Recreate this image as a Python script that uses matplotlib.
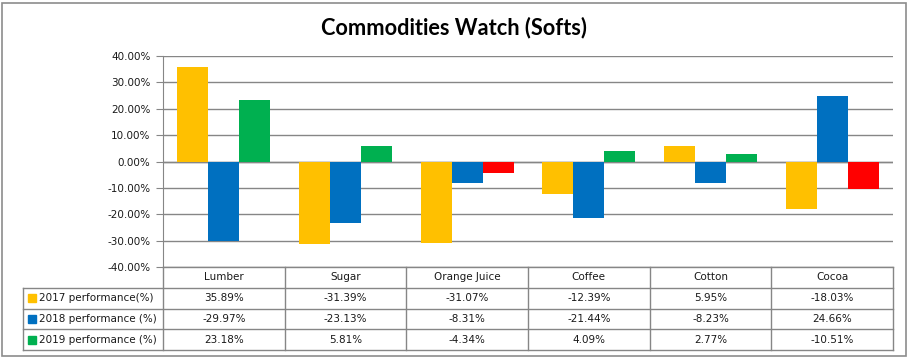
import numpy as np
import matplotlib
matplotlib.use('Agg')
import matplotlib.pyplot as plt
import matplotlib.transforms as mtransforms
from matplotlib.patches import Rectangle

categories = ['Lumber', 'Sugar', 'Orange Juice', 'Coffee', 'Cotton', 'Cocoa']
p2017 = [35.89, -31.39, -31.07, -12.39, 5.95, -18.03]
p2018 = [-29.97, -23.13, -8.31, -21.44, -8.23, 24.66]
p2019 = [23.18, 5.81, -4.34, 4.09, 2.77, -10.51]
series_names = ['2017 performance(%)', '2018 performance (%)', '2019 performance (%)']
yticks = [-40, -30, -20, -10, 0, 10, 20, 30, 40]

yellow = '#FFC000'
blue = '#0070C0'
green = '#00B050'
red = '#FF0000'
grid = '#868686'
txt = '#1a1a1a'

W, H = 908, 357
fig = plt.figure(figsize=(W / 100, H / 100), dpi=100)
fig.patches.append(Rectangle((1.5 / W, 1.5 / H), (W - 4) / W, (H - 4) / H,
                             transform=fig.transFigure, fill=False,
                             edgecolor='#8c8c8c', linewidth=1.2))

left, right, top, bottom = 163, 893, 56, 267
ax = fig.add_axes([left / W, 1 - bottom / H, (right - left) / W, (bottom - top) / H])

x = np.arange(len(categories))
bw = 0.255
ax.bar(x - bw, p2017, bw, color=yellow, zorder=3)
ax.bar(x, p2018, bw, color=blue, zorder=3)
ax.bar(x + bw, p2019, bw, color=[green if v >= 0 else red for v in p2019], zorder=3)

ax.set_xlim(-0.5, len(categories) - 0.5)
ax.set_ylim(-40, 40)
ax.set_yticks(yticks)
ax.set_yticklabels([f'{v:.2f}%' for v in yticks], fontsize=7.5, color=txt)
ax.set_xticks([])
ax.yaxis.grid(True, color=grid, linewidth=1, zorder=0)
ax.axhline(0, color=grid, linewidth=1, zorder=1)
for s in ['top', 'right', 'bottom']:
    ax.spines[s].set_visible(False)
ax.spines['left'].set_color(grid)
ax.tick_params(axis='y', length=5, color=grid, pad=4)

fig.text(0.5, 1 - 28 / H, 'Commodities Watch (Softs)', ha='center', va='center',
         fontsize=15.7, fontweight='bold', family=['Lato', 'DejaVu Sans'])

# data table under the axis
h = 20.8 / (bottom - top)
lab_x = (23 - left) / (right - left)
blend = mtransforms.blended_transform_factory(ax.transData, ax.transAxes)
lk = dict(color=grid, linewidth=1, clip_on=False)
n = len(categories)
ax.plot([0, 0], [0, -4 * h], transform=ax.transAxes, **lk)
ax.plot([lab_x, lab_x], [-h, -4 * h], transform=ax.transAxes, **lk)
for k in range(1, n + 1):
    ax.plot([k - 0.5, k - 0.5], [0, -4 * h], transform=blend, **lk)
ax.plot([0, 1], [0, 0], transform=ax.transAxes, **lk)
for r in range(1, 5):
    ax.plot([lab_x, 1], [-r * h, -r * h], transform=ax.transAxes, **lk)

for i, c in enumerate(categories):
    ax.text(i, -0.5 * h, c, transform=blend, ha='center', va='center', fontsize=7.5, color=txt)

rows = [p2017, p2018, p2019]
keys = [yellow, blue, green]
for r, (vals, name, kc) in enumerate(zip(rows, series_names, keys)):
    yc = -(r + 1.5) * h
    ax.plot([lab_x + 9 / (right - left)], [yc], marker='s', markersize=5.5, color=kc,
            transform=ax.transAxes, clip_on=False)
    ax.text(lab_x + 16 / (right - left), yc, name, transform=ax.transAxes,
            ha='left', va='center', fontsize=7.5, color=txt)
    for i, v in enumerate(vals):
        ax.text(i, yc, f'{v:.2f}%', transform=blend, ha='center', va='center',
                fontsize=7.5, color=txt)

fig.savefig('out.png', dpi=100)
